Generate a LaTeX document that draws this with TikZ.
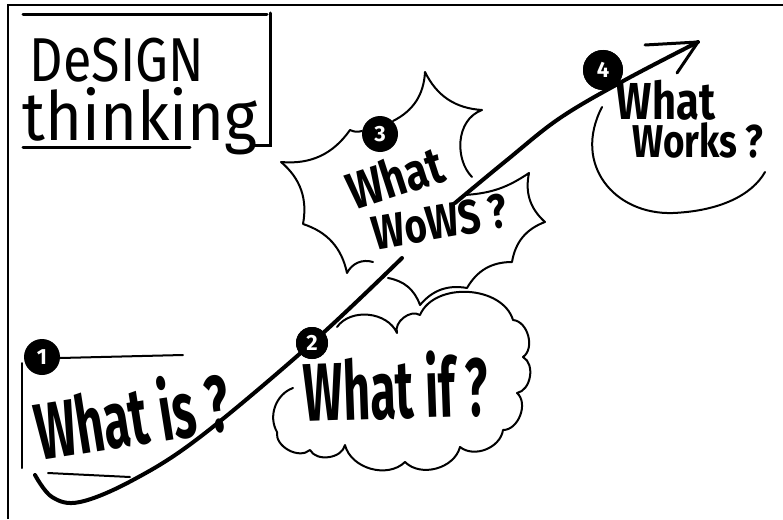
\documentclass[tikz,border=0pt]{standalone}
\usepackage{fontspec}
\setmainfont{Fira Sans}
\newcommand\fsz[1]{\fontsize{#1}{#1}\selectfont}
\begin{document}
\begin{tikzpicture}[x=1pt,y=-1pt,
  frameline/.style={line width=2pt},
  titleline/.style={line width=3pt, line cap=round},
  outl/.style={line width=2pt, line cap=round, line join=round},
  mainline/.style={line width=4pt, line cap=round, line join=round},
  numc/.style={circle, fill=black, minimum size=36pt, inner sep=0pt, text=white, font=\fsz{22}\bfseries},
  hand/.style={inner sep=0pt, text=black}]
\useasboundingbox (0,0) rectangle (783,519);
\fill[white] (0,0) rectangle (783,519);
% frame
\draw[frameline] (8,519) -- (8,5) -- (783,5);
% title box
\draw[titleline] (23,15) -- (267,15);
\draw[titleline] (270,13) -- (270,145) -- (253,145);
\draw[titleline] (23,147) -- (190,147);
\node[hand] (title1) at (117,60) {\scalebox{0.84}[1]{\fsz{62}DeSIGN}};
\node[hand] (title2) at (140,121) {\scalebox{0.93}[1]{\fsz{68}thinking}};

% coordinates of the burst
\coordinate (A) at (425,72);
\coordinate (B) at (482,110);
\coordinate (s1) at (393,121);
\coordinate (s2) at (472,177);
\coordinate (s3) at (465,195);
\coordinate (C) at (529,173);
\coordinate (D) at (545,222);
\coordinate (E) at (512,262);
\coordinate (F) at (467,288);
\coordinate (G) at (420,305);
\coordinate (H) at (388,278);
\coordinate (s4) at (373,262);
\coordinate (L1) at (347,273);
\coordinate (L2) at (303,224);
\coordinate (L3) at (281,162);
\coordinate (L4) at (350,130);
\coordinate (s5) at (362,131);

% star (What wows)
\draw[outl] (s1) to[bend right=30] (A) to[bend right=30] (B) .. controls (455,120) and (455,160) .. (s2);
\draw[outl] (s3) to[bend right=15] (C) to[bend right=30] (D) to[bend right=30] (E) to[bend right=30] (F) to[bend right=30] (G) to[bend right=30] (H);
\draw[outl] (s4) to[bend right=40] (L1) to[bend right=30] (L2) to[bend right=30] (L3) to[bend right=30] (L4) to[bend right=20] (s5);

% cloud (What if)
\coordinate (V0) at (337,327);
\coordinate (V1) at (397,333);
\coordinate (V2) at (420,315);
\coordinate (V3) at (513,320);
\coordinate (V4) at (523,357);
\coordinate (V5) at (517,393);
\coordinate (V6) at (503,430);
\coordinate (V7) at (460,447);
\coordinate (V8) at (405,462);
\coordinate (V9) at (345,445);
\coordinate (V10) at (310,450);
\coordinate (V11) at (277,432);
\coordinate (V12) at (293,388);
\draw[outl] (V0) to[bend left=60] (V1) to[bend left=70] (V2) to[bend left=70] (V3) to[bend left=70] (V4) to[bend left=70] (V5) to[bend left=70] (V6) to[bend left=60] (V7) to[bend left=60] (V8) to[bend left=60] (V9) to[bend left=70] (V10) to[bend left=70] (V11) to[bend left=50] (V12);

% What is bracket
\draw[outl] (22,363) -- (22,468);
\draw[outl] (60,358) -- (183,355);
\draw[outl] (48,473) -- (130,477);

% What works arc
\coordinate (w1) at (602,107);
\coordinate (w2) at (673,213);
\coordinate (w3) at (765,172);
\draw[outl] (w1) .. controls (572,165) and (615,215) .. (w2) .. controls (720,211) and (752,195) .. (w3);

% number circles
\node[numc] (n1) at (42,357) {1};
\node[numc, minimum size=32pt] (n2) at (312,343) {2};
\node[numc] (n3) at (380,134) {3};
\node[numc, minimum size=40pt] (n4) at (603,70) {4};

% main curve
\coordinate (c0) at (35,475);
\coordinate (c1) at (52,497);
\coordinate (c2) at (80,502);
\coordinate (c3) at (133,480);
\coordinate (c4) at (200,437);
\coordinate (c5) at (402,258);
\coordinate (c6) at (455,203);
\coordinate (c7) at (507,160);
\coordinate (c8) at (560,118);
\coordinate (c9) at (625,80);
\coordinate (tip) at (698,42);
\coordinate (b1) at (645,45);
\coordinate (b2) at (677,73);
\draw[mainline] plot[smooth, tension=0.6] coordinates {(c0) (c1) (c2) (c3) (c4) (n2.center) (c5)};
\draw[mainline] plot[smooth, tension=0.6] coordinates {(c6) (c7) (c8) (c9) (tip)};
\draw[mainline, line width=3pt] (b1) -- (tip) -- (b2);
\node[numc, minimum size=32pt] at (n2) {2};
\node[numc, minimum size=40pt] at (n4) {4};

% labels
\node[hand, rotate=9] (t1) at (132,414) {\scalebox{0.6}[1]{\fsz{80}\bfseries What is ?}};
\node[hand, rotate=2] (t2) at (396,386) {\scalebox{0.57}[1]{\fsz{82}\bfseries What if ?}};
\node[hand, rotate=18] (t3a) at (395,177) {\scalebox{0.8}[1]{\fsz{52}\bfseries What}};
\node[hand, rotate=10] (t3b) at (440,222) {\scalebox{0.8}[1]{\fsz{48}\bfseries WoWS ?}};
\node[hand] (t4a) at (666,100) {\scalebox{0.8}[1]{\fsz{52}\bfseries What}};
\node[hand] (t4b) at (698,140) {\scalebox{0.8}[1]{\fsz{46}\bfseries Works ?}};
\end{tikzpicture}
\end{document}
